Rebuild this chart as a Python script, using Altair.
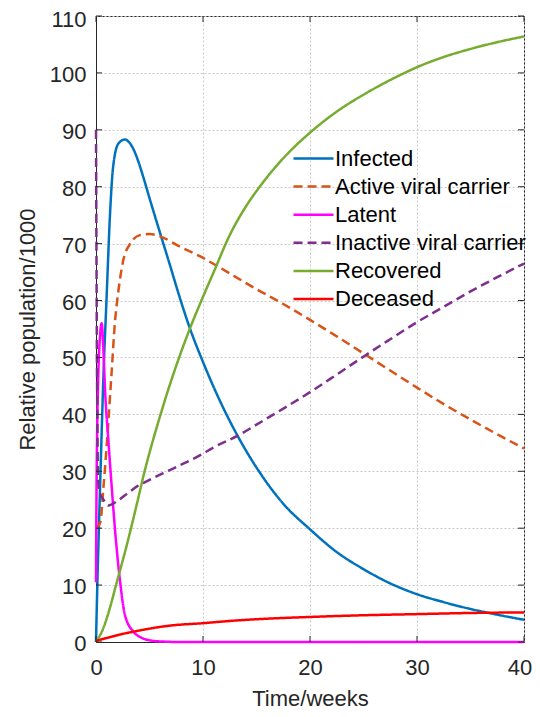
import altair as alt
import pandas as pd

# ---- data ----
series_names = ["Infected", "Active viral carrier", "Latent",
                "Inactive viral carrier", "Recovered", "Deceased"]
series_colors = ["#0072BD", "#D95319", "#FF00FF", "#7E2F8E", "#77AC30", "#FF0000"]

infected_t = [0, 0.15, 0.3, 0.5, 0.7, 1.0, 1.3, 1.6, 2.1, 2.7, 3.0, 3.5, 4.0, 4.5, 5.0, 6.0,
              6.9, 7.7, 8.76, 10, 11.55, 13.3, 15.3, 17.5, 20, 22.5, 25, 27.5, 30, 32.5, 35,
              37.5, 40]
infected_v = [0, 12, 22, 35, 47, 61, 74.8, 83.5, 87.6, 88.3, 88.0, 86.6, 84.2, 81.2, 78.0, 71.8,
              66.3, 61.3, 55.2, 49.2, 42.5, 36.0, 29.8, 24.3, 19.8, 15.8, 12.8, 10.3, 8.4, 7.0, 5.8,
              4.8, 3.9]

active_t = [0, 0.4, 0.68, 0.9, 1.15, 1.46, 1.77, 2.08, 2.55, 3.2, 4.1, 5.0, 6.1, 7.8, 9.7,
            11.2, 13, 15, 17.5, 20, 22.5, 25, 27.5, 30, 32.5, 35, 37.5, 40]
active_v = [20, 21, 26.8, 32, 38.6, 47.4, 56.2, 61.5, 67.1, 70, 71.5, 71.7, 71.2, 69.5, 67.8,
            66.2, 64.2, 62.0, 59.4, 56.6, 53.7, 50.7, 47.7, 44.7, 41.8, 39.1, 36.5, 34]

latent_t = [0, 0.05, 0.1, 0.2, 0.35, 0.53, 0.7, 0.84, 1.15, 1.46, 1.77, 2.24, 2.7, 3.5, 4.2,
            5.0, 6, 8, 40]
latent_v = [10.5, 27, 36, 46, 53, 56, 51, 44.5, 35.6, 27.5, 19.9, 10.8, 4.8, 1.8, 0.8,
            0.3, 0.1, 0, 0]

inactive_t = [0, 0.04, 0.08, 0.13, 0.2, 0.35, 0.7, 1.15, 2, 3, 3.8, 5, 7, 9.7, 11.1, 13.3,
              15, 17.5, 20, 22.5, 25.2, 27.5, 30, 32.5, 35, 37.5, 40]
inactive_v = [90, 70, 52, 38, 28.5, 26.3, 25, 24, 24.8, 26.2, 27.3, 28.5, 30.3, 32.8, 34.3, 36.3,
              38.2, 41, 43.9, 47, 50.4, 53.2, 56.2, 58.9, 61.6, 64.1, 66.5]

recovered_t = [0, 0.68, 1.3, 1.9, 2.86, 3.8, 4.4, 6.1, 8.76, 9.85, 11, 12.5, 14, 15.3, 17.5,
               20, 22.5, 25.3, 28.4, 30, 32.5, 34.6, 37.5, 40]
recovered_v = [0, 2.4, 6, 10.2, 16.9, 24.1, 28.9, 40.4, 55, 60, 65, 71.5, 76.5, 80, 85,
               89.5, 93.2, 96.5, 99.6, 101, 102.8, 104, 105.4, 106.4]

deceased_t = [0, 1, 2, 4, 7, 10, 12.5, 15, 20, 25, 30, 35, 40]
deceased_v = [0.2, 0.7, 1.2, 2.0, 2.9, 3.3, 3.7, 4.0, 4.4, 4.7, 4.9, 5.1, 5.2]

x_ticks = [0, 10, 20, 30, 40]
y_ticks = [0, 10, 20, 30, 40, 50, 60, 70, 80, 90, 100, 110]

# ---- build table ----
all_t = [infected_t, active_t, latent_t, inactive_t, recovered_t, deceased_t]
all_v = [infected_v, active_v, latent_v, inactive_v, recovered_v, deceased_v]
rows = []
for name, ts, vs in zip(series_names, all_t, all_v):
    for i, (t, v) in enumerate(zip(ts, vs)):
        rows.append({"series": name, "t": t, "v": v, "i": i})
df = pd.DataFrame(rows)
xt_df = pd.DataFrame({"t": x_ticks})
yt_df = pd.DataFrame({"v": y_ticks})

W, H = 428, 626
FONT = "Liberation Sans"
xscale = alt.Scale(domain=[0, 40], nice=False, zero=False)
yscale = alt.Scale(domain=[0, 110], nice=False, zero=False)

dash_range = [[1, 0], [9, 5], [1, 0], [9, 5], [1, 0], [1, 0]]

# keep the edge labels inside the drawing surface
last_x_label_shift = {"condition": {"test": f"datum.value == {x_ticks[-1]}", "value": -4.5},
                      "value": 0}
top_y_label_shift = {"condition": {"test": f"datum.value == {y_ticks[-1]}", "value": 3},
                     "value": 1.5}

lines = alt.Chart(df).mark_line(interpolate="monotone", strokeWidth=2.5).encode(
    x=alt.X("t:Q", scale=xscale,
            axis=alt.Axis(values=x_ticks, title="Time/weeks", grid=True, ticks=False,
                          labelFlush=False, labelPadding=15, titlePadding=10,
                          labelOffset=last_x_label_shift)),
    y=alt.Y("v:Q", scale=yscale,
            axis=alt.Axis(values=y_ticks, title="Relative population/1000", grid=True,
                          ticks=False, labelFlush=False, labelPadding=10, titlePadding=10,
                          labelOffset=top_y_label_shift)),
    color=alt.Color("series:N", scale=alt.Scale(domain=series_names, range=series_colors),
                    legend=alt.Legend(title=None)),
    strokeDash=alt.StrokeDash("series:N", scale=alt.Scale(domain=series_names, range=dash_range),
                              legend=alt.Legend(title=None)),
    order="i:Q",
)

tick_style = dict(color="#262626", strokeWidth=1)
yt_left = alt.Chart(yt_df).mark_rule(**tick_style).encode(
    y=alt.Y("v:Q", scale=yscale), x=alt.value(0), x2=alt.value(6))
yt_right = alt.Chart(yt_df).mark_rule(**tick_style).encode(
    y=alt.Y("v:Q", scale=yscale), x=alt.value(W - 6), x2=alt.value(W))
xt_bottom = alt.Chart(xt_df).mark_rule(**tick_style).encode(
    x=alt.X("t:Q", scale=xscale), y=alt.value(H - 6), y2=alt.value(H))
xt_top = alt.Chart(xt_df).mark_rule(**tick_style).encode(
    x=alt.X("t:Q", scale=xscale), y=alt.value(0), y2=alt.value(6))

chart = alt.layer(lines, yt_left, yt_right, xt_bottom, xt_top).properties(
    width=W, height=H,
    autosize=alt.AutoSizeParams(type="none"),
    padding={"left": 88, "top": 8, "right": 8, "bottom": 67},
).configure(
    font=FONT,
).configure_view(
    stroke="#262626", strokeWidth=1,
).configure_axis(
    labelFont=FONT, titleFont=FONT, labelFontSize=22, titleFontSize=22,
    titleFontWeight="normal", labelColor="#262626", titleColor="#262626",
    domainColor="#262626", domainWidth=1,
    gridColor="#c8c8c8", gridDash=[2, 2], gridWidth=1,
).configure_legend(
    orient="none", legendX=196, legendY=131, padding=0,
    labelFont=FONT, labelFontSize=22, labelColor="#000000", labelLimit=0,
    symbolType="M-1,0H3", symbolSize=400, symbolStrokeWidth=2.5,
    labelOffset=20, rowPadding=5.1, fillColor="transparent", strokeColor="transparent",
)

chart.save("out.html", embed_options={"renderer": "svg", "actions": False})
